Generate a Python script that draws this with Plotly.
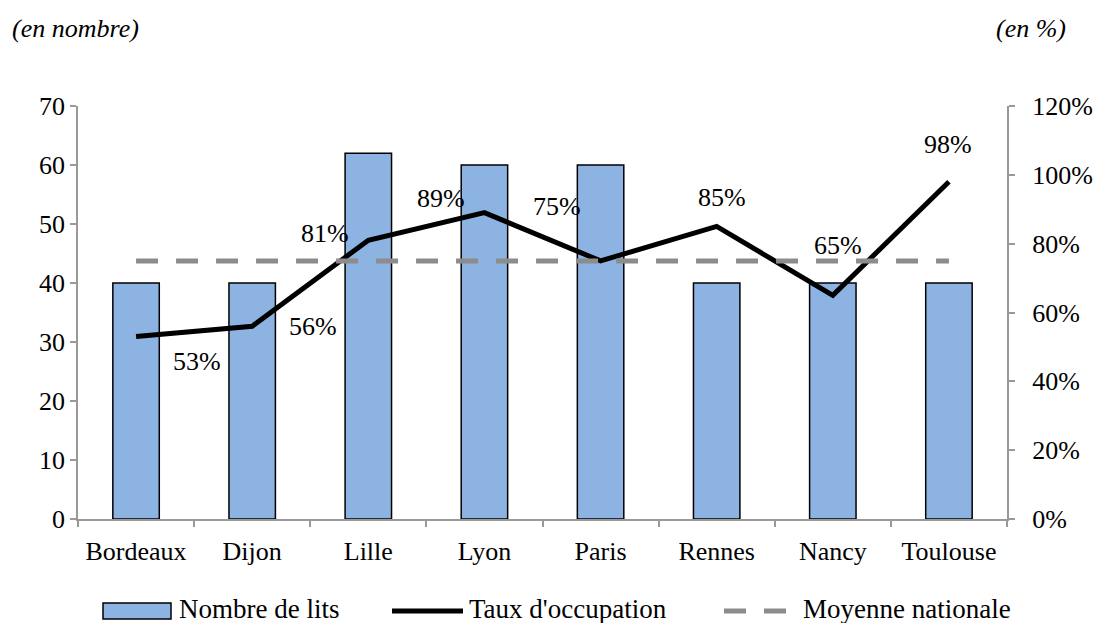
import plotly.graph_objects as go

# Data
villes = ["Bordeaux", "Dijon", "Lille", "Lyon", "Paris", "Rennes", "Nancy", "Toulouse"]
nombre_lits = [40, 40, 62, 60, 60, 40, 40, 40]
taux_occupation = [0.53, 0.56, 0.81, 0.89, 0.75, 0.85, 0.65, 0.98]
moyenne_nationale = 0.75

# Pixel offsets of each percentage label relative to its point (dx, dy up)
label_offsets = [(61, -25), (61, 0), (-43, 7), (-43, 14), (-44, 54), (5, 29), (5, 50), (-1, 37)]

FONT = "Liberation Serif"
AXIS_GREY = "#999999"
BAR_BLUE = "#8DB3E2"
DASH_GREY = "#8C8C8C"

W, H = 1095, 623
L, R, T, B = 78, 1007, 106, 519  # plot area in pixels
PCT_RANGE = [0, 1.2]


def px(x):
    return (x - L) / (R - L)


def py(y):
    return (B - y) / (B - T)


fig = go.Figure()

fig.add_trace(go.Bar(
    x=villes, y=nombre_lits, name="Nombre de lits",
    marker=dict(color=BAR_BLUE, line=dict(color="black", width=1.5)),
    yaxis="y", showlegend=False,
))

fig.add_trace(go.Scatter(
    x=villes, y=taux_occupation, name="Taux d'occupation", mode="lines",
    line=dict(color="black", width=5), yaxis="y2", showlegend=False,
))

fig.add_trace(go.Scatter(
    x=villes, y=[moyenne_nationale] * len(villes), name="Moyenne nationale",
    mode="lines", line=dict(color=DASH_GREY, width=5, dash="22px,18px"),
    yaxis="y3", showlegend=False,
))

annotations = []
for v, t, (dx, dy) in zip(villes, taux_occupation, label_offsets):
    annotations.append(dict(
        x=v, y=t, xref="x", yref="y2", text=f"{round(t * 100)}%",
        showarrow=False, xshift=dx, yshift=dy,
        font=dict(family=FONT, size=26, color="black"),
        xanchor="center", yanchor="middle",
    ))

# Unit captions
annotations.append(dict(
    x=px(10), y=py(28), xref="paper", yref="paper", text="<i>(en nombre)</i>",
    showarrow=False, xanchor="left", yanchor="middle",
    font=dict(family=FONT, size=26, color="black"),
))
annotations.append(dict(
    x=px(1068), y=py(28), xref="paper", yref="paper", text="<i>(en %)</i>",
    showarrow=False, xanchor="right", yanchor="middle",
    font=dict(family=FONT, size=26, color="black"),
))

# Legend built from shapes and text
legend_y = 611
shapes = [
    dict(type="rect", xref="paper", yref="paper",
         x0=px(103), x1=px(171), y0=py(619), y1=py(603),
         fillcolor=BAR_BLUE, line=dict(color="black", width=1.5)),
    dict(type="line", xref="paper", yref="paper",
         x0=px(392), x1=px(463), y0=py(legend_y), y1=py(legend_y),
         line=dict(color="black", width=5)),
    dict(type="line", xref="paper", yref="paper",
         x0=px(724), x1=px(787), y0=py(legend_y), y1=py(legend_y),
         line=dict(color=DASH_GREY, width=5, dash="22px,18px")),
]
for txt, x0 in [("Nombre de lits", 177), ("Taux d'occupation", 467), ("Moyenne nationale", 801)]:
    annotations.append(dict(
        x=px(x0), y=py(legend_y - 2), xref="paper", yref="paper", text=txt,
        showarrow=False, xanchor="left", yanchor="middle",
        font=dict(family=FONT, size=27, color="black"),
    ))

fig.update_layout(
    width=W, height=H,
    margin=dict(l=L, r=W - R, t=T, b=H - B, pad=0, autoexpand=False),
    paper_bgcolor="white", plot_bgcolor="white",
    font=dict(family=FONT, size=26, color="black"),
    bargap=0.6,
    showlegend=False,
    xaxis=dict(
        type="category", showline=True, linecolor=AXIS_GREY, linewidth=1.5,
        ticks="outside", tickson="boundaries", ticklen=6, tickcolor=AXIS_GREY,
        tickwidth=1.5, showgrid=False, tickfont=dict(family=FONT, size=26),
        zeroline=False, ticklabelstandoff=8, tickangle=0,
    ),
    yaxis=dict(
        range=[0, 70], dtick=10, showline=True, linecolor=AXIS_GREY, linewidth=1.5,
        ticks="outside", ticklen=6, tickcolor=AXIS_GREY, tickwidth=1.5,
        showgrid=False, zeroline=False, tickfont=dict(family=FONT, size=26),
    ),
    # right axis: line and short ticks
    yaxis2=dict(
        range=PCT_RANGE, dtick=0.2, overlaying="y", side="right", anchor="x",
        showline=True, linecolor=AXIS_GREY, linewidth=1.5,
        ticks="outside", ticklen=6, tickcolor=AXIS_GREY, tickwidth=1.5,
        showgrid=False, zeroline=False, showticklabels=False,
    ),
    # right axis: percentage labels set a little further out
    yaxis3=dict(
        range=PCT_RANGE, dtick=0.2, tickformat=".0%", overlaying="y", side="right",
        anchor="x", showline=False, ticks="outside", ticklen=19,
        tickcolor="rgba(0,0,0,0)", showgrid=False, zeroline=False,
        tickfont=dict(family=FONT, size=26),
    ),
    annotations=annotations,
    shapes=shapes,
)

fig.write_html("out.html")
